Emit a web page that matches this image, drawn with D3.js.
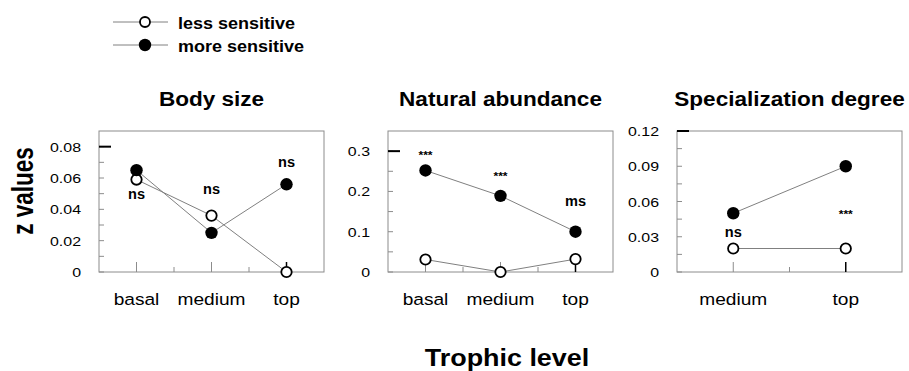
<!DOCTYPE html>
<html>
<head>
<meta charset="utf-8">
<script src="https://cdn.jsdelivr.net/npm/d3@7"></script>
<style>
  body { margin: 0; background: #fff; }
  text { font-family: Arial, "Liberation Sans", sans-serif; fill: #000; }
</style>
</head>
<body>
<svg id="chart"></svg>
<script>
// ----- data
const legend_labels = ["less sensitive", "more sensitive"];
const panel_titles = ["Body size", "Natural abundance", "Specialization degree"];

const body_levels = ["basal", "medium", "top"];
const body_less = [0.059, 0.036, 0.0];
const body_more = [0.065, 0.025, 0.056];
const body_sig = ["ns", "ns", "ns"];
const body_sig_at = [0.0465, 0.0499, 0.0670];
const body_ticks = [0, 0.02, 0.04, 0.06, 0.08];
const body_max = 0.09;

const abund_levels = ["basal", "medium", "top"];
const abund_less = [0.031, 0.0, 0.032];
const abund_more = [0.252, 0.189, 0.100];
const abund_sig = ["***", "***", "ms"];
const abund_sig_at = [0.281, 0.228, 0.163];
const abund_ticks = [0, 0.1, 0.2, 0.3];
const abund_max = 0.35;

const spec_levels = ["medium", "top"];
const spec_less = [0.02, 0.02];
const spec_more = [0.05, 0.09];
const spec_sig = ["ns", "***"];
const spec_sig_at = [0.030, 0.046];
const spec_ticks = [0, 0.03, 0.06, 0.09, 0.12];
const spec_max = 0.12;

const x_title = "Trophic level";
const y_title = "z values";

// ----- layout
const width = 909, height = 371;
const plot_top = 131, plot_bottom = 272, plot_w = 225;
const plot_lefts = [99, 388, 677];
const line_grey = "#808080", box_grey = "#8c8c8c";

const svg = d3.select("#chart").attr("width", width).attr("height", height);

// helper for the slightly wide text of the original
function stretched_text(x, y, str, size, weight, sx, anchor) {
    return svg.append("text")
        .attr("transform", "translate(" + x + "," + y + ") scale(" + sx + ",1)")
        .attr("text-anchor", anchor || "middle")
        .attr("font-size", size)
        .attr("font-weight", weight)
        .text(str);
}

const panels = [
    { levels: body_levels, less: body_less, more: body_more, sig: body_sig, sig_at: body_sig_at, ticks: body_ticks, max: body_max },
    { levels: abund_levels, less: abund_less, more: abund_more, sig: abund_sig, sig_at: abund_sig_at, ticks: abund_ticks, max: abund_max },
    { levels: spec_levels, less: spec_less, more: spec_more, sig: spec_sig, sig_at: spec_sig_at, ticks: spec_ticks, max: spec_max }
];

panels.forEach(function (p, i) {
    const left = plot_lefts[i];
    const x = d3.scaleBand().domain(p.levels).range([left, left + plot_w]);
    const y = d3.scaleLinear().domain([0, p.max]).range([plot_bottom, plot_top]);
    const g = svg.append("g");

    // Panel box
    g.append("rect")
        .attr("x", left).attr("y", plot_top)
        .attr("width", plot_w).attr("height", plot_bottom - plot_top)
        .attr("fill", "none").attr("stroke", box_grey).attr("stroke-width", 1);

    // Left axis ticks, drawn inside the box
    const minor = d3.pairs(p.ticks).map(function (d) { return (d[0] + d[1]) / 2; });
    const all_ticks = p.ticks.concat(minor);
    g.selectAll(".ytick").data(all_ticks).enter().append("line")
        .attr("x1", left).attr("x2", left + 5)
        .attr("y1", function (d) { return y(d); })
        .attr("y2", function (d) { return y(d); })
        .attr("stroke", box_grey);
    const top_tick = p.ticks[p.ticks.length - 1];
    g.append("line")
        .attr("x1", left).attr("x2", left + 12)
        .attr("y1", y(top_tick)).attr("y2", y(top_tick))
        .attr("stroke", "#000").attr("stroke-width", 2);

    p.ticks.forEach(function (t) {
        stretched_text(left - 18, y(t) + 5, String(t), 13.5, "normal", 1.18, "end");
    });

    // Bottom axis ticks: categories and band boundaries
    const bounds = p.levels.slice(1).map(function (d) { return x(d); });
    g.selectAll(".xminor").data(bounds).enter().append("line")
        .attr("x1", function (d) { return d; }).attr("x2", function (d) { return d; })
        .attr("y1", plot_bottom).attr("y2", plot_bottom - 5)
        .attr("stroke", box_grey);
    g.selectAll(".xtick").data(p.levels).enter().append("line")
        .attr("x1", function (d) { return x(d) + x.bandwidth() / 2; })
        .attr("x2", function (d) { return x(d) + x.bandwidth() / 2; })
        .attr("y1", plot_bottom).attr("y2", plot_bottom - 10)
        .attr("stroke", function (d, j) { return j === p.levels.length - 1 ? "#000" : box_grey; })
        .attr("stroke-width", function (d, j) { return j === p.levels.length - 1 ? 1.5 : 1; });

    p.levels.forEach(function (lv) {
        stretched_text(x(lv) + x.bandwidth() / 2, 305, lv, 16.5, "normal", 1.16);
    });

    // Series lines
    const cx = function (d, j) { return x(p.levels[j]) + x.bandwidth() / 2; };
    const line = d3.line().x(cx).y(function (d) { return y(d); });
    [p.less, p.more].forEach(function (s) {
        g.append("path").datum(s)
            .attr("d", line)
            .attr("fill", "none").attr("stroke", line_grey).attr("stroke-width", 1);
    });

    // Markers
    g.selectAll(".less").data(p.less).enter().append("circle")
        .attr("cx", cx).attr("cy", function (d) { return y(d); })
        .attr("r", 5.2).attr("fill", "#fff").attr("stroke", "#000").attr("stroke-width", 1.8);
    g.selectAll(".more").data(p.more).enter().append("circle")
        .attr("cx", cx).attr("cy", function (d) { return y(d); })
        .attr("r", 6.2).attr("fill", "#000");

    // Significance labels
    p.sig.forEach(function (s, j) {
        const star = s.indexOf("*") >= 0;
        stretched_text(cx(null, j), y(p.sig_at[j]), s, star ? 11.5 : 14, "bold", star ? 1.05 : 1.04);
    });

    // Panel title
    stretched_text(left + plot_w / 2, 106, panel_titles[i], 20.5, "bold", 1.1);
});

// Axis titles
svg.append("text")
    .attr("transform", "translate(33,191) rotate(-90) scale(1,1.33)")
    .attr("text-anchor", "middle")
    .attr("font-size", 22.5)
    .attr("font-weight", "bold")
    .text(y_title);
stretched_text(507, 366, x_title, 23, "bold", 1.17);

// Legend
const legend_y = d3.scalePoint().domain(legend_labels).range([22, 45]);
legend_labels.forEach(function (lab, i) {
    const ly = legend_y(lab);
    svg.append("line")
        .attr("x1", 113).attr("x2", 168).attr("y1", ly).attr("y2", ly)
        .attr("stroke", line_grey).attr("stroke-width", 1);
    if (i === 0) {
        svg.append("circle").attr("cx", 145).attr("cy", ly).attr("r", 5)
            .attr("fill", "#fff").attr("stroke", "#000").attr("stroke-width", 1.8);
    } else {
        svg.append("circle").attr("cx", 145).attr("cy", ly).attr("r", 6.2).attr("fill", "#000");
    }
    stretched_text(178, ly + 6.5, lab, 17, "bold", 1.06, "start");
});
</script>
</body>
</html>
